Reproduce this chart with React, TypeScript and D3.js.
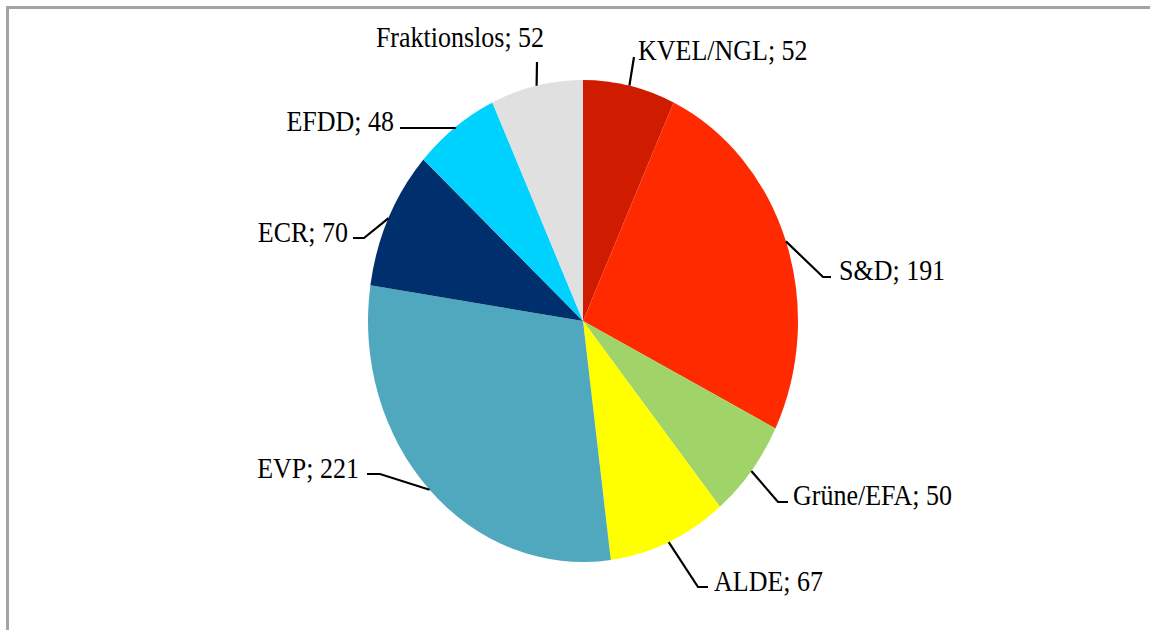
import React, { useEffect, useRef } from 'react';
import * as d3 from 'd3';

// Sitzverteilung im Europaparlament
const groups = ['KVEL/NGL', 'S&D', 'Grüne/EFA', 'ALDE', 'EVP', 'ECR', 'EFDD', 'Fraktionslos'];
const seats = [52, 191, 50, 67, 221, 70, 48, 52];
const colors = ['#cf1c00', '#ff2a00', '#a0d468', '#ffff00', '#50a8bf', '#002f6e', '#00d2ff', '#e0e0e0'];

// leader elbow point + which side the label sits on
const labelLayout = [
  { ex: 634, ey: 57, hx: 634, side: 'right', ty: 60, tx: 638 },
  { ex: 823, ey: 277, hx: 831, side: 'right', ty: 280, tx: 839 },
  { ex: 778, ey: 502, hx: 788, side: 'right', ty: 505, tx: 793 },
  { ex: 698, ey: 587, hx: 708, side: 'right', ty: 591, tx: 714 },
  { ex: 380, ey: 474, hx: 367, side: 'left', ty: 478, tx: 359 },
  { ex: 364, ey: 238, hx: 353, side: 'left', ty: 242, tx: 348 },
  { ex: 455, ey: 128, hx: 400, side: 'left', ty: 131, tx: 394 },
  { ex: 537, ey: 62, hx: 537, side: 'middle', ty: 47, tx: 460 },
];

const App = () => {
  const svgRef = useRef<SVGSVGElement>(null);

  useEffect(() => {
    const svgWidth = 1150;
    const svgHeight = 630;
    const cx = 583;
    const cy = 321;
    const rx = 215;
    const ry = 241;

    const svg = d3.select(svgRef.current)
      .attr('width', svgWidth)
      .attr('height', svgHeight)
      .style('background', '#fff');

    svg.selectAll('*').remove();

    // frame (runs off the right/bottom edge)
    svg.append('rect')
      .attr('x', 7.5)
      .attr('y', 7.5)
      .attr('width', 1300)
      .attr('height', 800)
      .attr('fill', 'none')
      .attr('stroke', '#a3a3a3')
      .attr('stroke-width', 3);

    const data = groups.map((g, i) => ({ name: g, value: seats[i], color: colors[i] }));

    const pie = d3.pie<any>()
      .sort(null)
      .value(d => d.value)
      .startAngle(0)
      .endAngle(2 * Math.PI);

    const arcs = pie(data);

    const arc = d3.arc<any>()
      .innerRadius(0)
      .outerRadius(ry);

    // the whole chart is stretched vertically a bit
    svg.append('g')
      .attr('transform', `translate(${cx},${cy}) scale(${rx / ry},1)`)
      .selectAll('path')
      .data(arcs)
      .enter()
      .append('path')
      .attr('d', arc)
      .attr('fill', d => d.data.color);

    // leader lines + labels
    const labels = svg.append('g');
    arcs.forEach((a, i) => {
      const mid = (a.startAngle + a.endAngle) / 2;
      const sx = cx + rx * Math.sin(mid);
      const sy = cy - ry * Math.cos(mid);
      const l = labelLayout[i];
      const pts: [number, number][] = [[sx, sy], [l.ex, l.ey], [l.hx, l.ey]];
      labels.append('path')
        .attr('d', d3.line()(pts))
        .attr('fill', 'none')
        .attr('stroke', '#000')
        .attr('stroke-width', 2.2);

      labels.append('text')
        .attr('transform', `translate(${l.tx},${l.ty}) scale(1,1.14)`)
        .attr('text-anchor', l.side === 'left' ? 'end' : l.side === 'middle' ? 'middle' : 'start')
        .attr('font-family', '"Liberation Serif", "Times New Roman", serif')
        .attr('font-size', 26)
        .attr('fill', '#000')
        .text(`${a.data.name}; ${a.data.value}`);
    });
  }, []);

  return (
    <svg
      ref={svgRef}
      style={{ position: 'absolute', left: 0, top: 0, display: 'block' }}
    ></svg>
  );
};

export default App;
